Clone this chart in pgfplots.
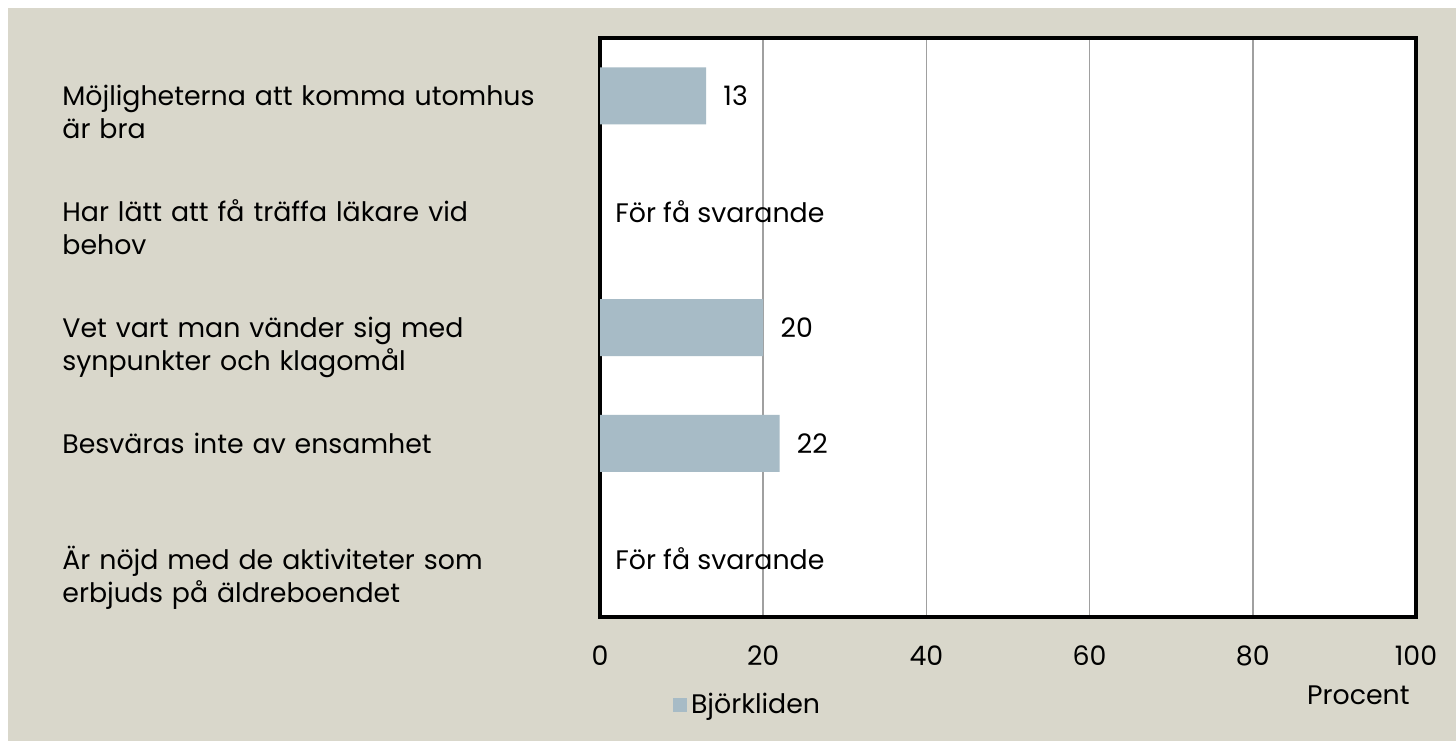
\documentclass[border=0pt]{standalone}
\usepackage{pgfplots}
\pgfplotsset{compat=1.18}
\usepackage{fontspec}
\setmainfont{Poppins}
\definecolor{bg}{HTML}{D9D7CB}
\definecolor{barc}{HTML}{A7BBC6}
\definecolor{gridc}{HTML}{A0A0A0}
\begin{document}
\begin{tikzpicture}[x=1pt,y=1pt,font=\fontsize{13.4pt}{16.5pt}\selectfont]
\useasboundingbox (0,0) rectangle (728,-370.5);
\fill[white] (0,0) rectangle (728,-370.5);
\fill[bg] (4,-4) rectangle (728,-370.5);
\begin{axis}[
  at={(300pt,-308.5pt)}, anchor=south west,
  scale only axis, width=408pt, height=289.5pt,
  xbar, bar width=28.5pt,
  xmin=0, xmax=100, ymin=-0.5, ymax=4.5, y dir=reverse,
  clip=false,
  axis background/.style={fill=white},
  axis line style={line width=2pt, black},
  xmajorgrids, grid style={gridc, line width=0.75pt},
  major tick length=0pt,
  xtick={0,20,40,60,80,100},
  /pgf/number format/assume math mode=true,
  xticklabel style={anchor=north, inner sep=0pt, yshift=-14pt},
  ytick={0,1,2,3,4},
  yticklabels={{Möjligheterna att komma utomhus\\är bra},
               {Har lätt att få träffa läkare vid\\behov},
               {Vet vart man vänder sig med\\synpunkter och klagomål},
               {Besväras inte av ensamhet},
               {Är nöjd med de aktiviteter som\\erbjuds på äldreboendet}},
  yticklabel style={anchor=base west, xshift=-269pt, yshift=-5pt, text width=250pt, align=left, inner sep=0pt},
  nodes near coords,
  nodes near coords style={anchor=west, inner sep=0pt, xshift=8.5pt, black},
  legend style={at={(axis description cs:0.089,-0.152)}, anchor=west, draw=none, fill=none, inner sep=0pt},
  legend cell align=left,
  legend image code/.code={\fill[#1] (0pt,-3.5pt) rectangle (7pt,3.5pt);},
]
\addplot[fill=barc, draw=none] coordinates {(13,0) (20,2) (22,3)};
\addlegendentry{Björkliden}
\node[anchor=west, inner sep=0pt, xshift=7.5pt] at (axis cs:0,1) {För få svarande};
\node[anchor=west, inner sep=0pt, xshift=7.5pt] at (axis cs:0,4) {För få svarande};
\node[anchor=east, inner sep=0pt, xshift=-3pt, yshift=-39pt] at (axis description cs:1,0) {Procent};
\end{axis}
\end{tikzpicture}
\end{document}
